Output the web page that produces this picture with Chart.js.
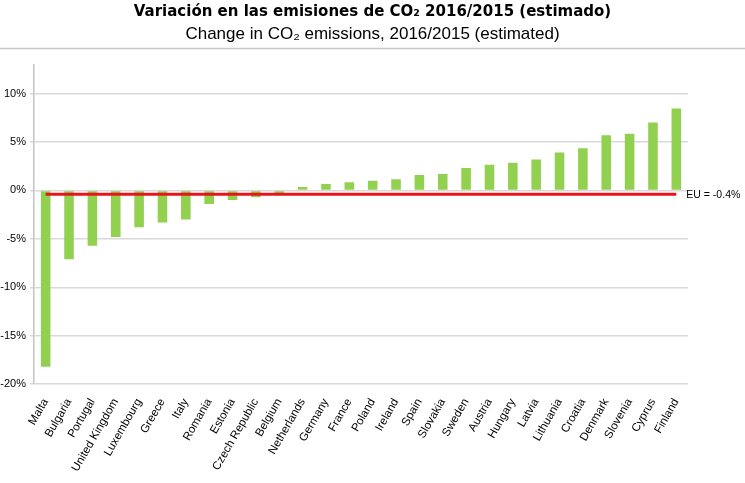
<!DOCTYPE html>
<html>
<head>
<meta charset="utf-8">
<script src="https://cdn.jsdelivr.net/npm/chart.js@4.4.1/dist/chart.umd.min.js"></script>
<style>
  html, body { margin: 0; padding: 0; background: #fff; }
  #wrap { width: 745px; height: 483px; position: relative; }
</style>
</head>
<body>
<div id="wrap"><canvas id="co2-chart"></canvas></div>
<script>
// countries, sorted from largest fall to largest rise
var countries = ['Malta', 'Bulgaria', 'Portugal', 'United Kingdom', 'Luxembourg', 'Greece', 'Italy',
  'Romania', 'Estonia', 'Czech Republic', 'Belgium', 'Netherlands', 'Germany', 'France', 'Poland',
  'Ireland', 'Spain', 'Slovakia', 'Sweden', 'Austria', 'Hungary', 'Latvia', 'Lithuania', 'Croatia',
  'Denmark', 'Slovenia', 'Cyprus', 'Finland'];

// % change 2016/2015
var changes = [-18.2, -7.1, -5.7, -4.8, -3.8, -3.3, -3.0,
  -1.4, -1.0, -0.7, -0.45, 0.35, 0.65, 0.85, 1.0,
  1.15, 1.6, 1.7, 2.3, 2.65, 2.85, 3.2, 3.9, 4.35,
  5.7, 5.85, 7.0, 8.45];

var euValue = -0.4;
var euLabel = 'EU = -0.4%';
var yTicks = [-20, -15, -10, -5, 0, 5, 10];

var titleEs = 'Variación en las emisiones de CO₂ 2016/2015 (estimado)';
var titleEn = 'Change in CO₂ emissions, 2016/2015 (estimated)';

var font = "'Liberation Sans', Arial, sans-serif";

// grey rule under the titles and the EU label at the end of the red line
var extras = {
  id: 'extras',
  beforeDraw: function (chart) {
    var c = chart.ctx;
    c.save();
    c.strokeStyle = '#c8c8c8';
    c.lineWidth = 1.5;
    c.beginPath();
    c.moveTo(0, chart.chartArea.top - 16);
    c.lineTo(chart.width, chart.chartArea.top - 16);
    c.stroke();
    c.restore();
  },
  afterDatasetsDraw: function (chart) {
    var meta = chart.getDatasetMeta(1);
    var last = meta.data[meta.data.length - 1];
    var c = chart.ctx;
    c.save();
    c.fillStyle = '#000';
    c.font = '10.5px ' + font;
    c.textAlign = 'left';
    c.textBaseline = 'middle';
    c.fillText(euLabel, last.x + 10, last.y + 1);
    c.restore();
  }
};

document.addEventListener('DOMContentLoaded', function () {
  var ctx = document.getElementById('co2-chart').getContext('2d');
  var myChart = new Chart(ctx, {
    type: 'bar',
    data: {
      labels: countries,
      datasets: [{
        label: 'Change',
        data: changes,
        backgroundColor: '#92d050',
        borderWidth: 0,
        barPercentage: 0.41,
        categoryPercentage: 1,
        order: 1
      },
      {
        type: 'line',
        label: 'EU',
        data: countries.map(function () { return euValue; }),
        borderColor: '#e8141c',
        borderWidth: 3,
        pointRadius: 0,
        fill: false,
        order: 0
      }]
    },
    options: {
      responsive: true,
      maintainAspectRatio: false,
      animation: false,
      layout: {
        padding: { left: 0, right: 0, top: 0, bottom: 5 }
      },
      scales: {
        x: {
          grid: { display: false },
          border: { display: false },
          ticks: {
            color: '#000',
            font: { family: font, size: 11.5 },
            maxRotation: 60,
            minRotation: 60,
            padding: 4,
            autoSkip: false
          }
        },
        y: {
          min: -20,
          max: 13,
          afterBuildTicks: function (scale) {
            scale.ticks = yTicks.map(function (v) { return { value: v }; });
          },
          afterFit: function (scale) {
            scale.width = 34;
          },
          grid: {
            color: '#d9d9d9',
            lineWidth: 1.5,
            tickLength: 4
          },
          border: { color: '#c4c4c4', width: 1.5 },
          ticks: {
            color: '#000',
            font: { family: font, size: 11 },
            padding: 4,
            callback: function (v) { return v + '%'; }
          }
        },
        // empty right-hand strip that leaves room for the EU label
        yRight: {
          position: 'right',
          grid: { display: false },
          border: { display: false },
          ticks: { display: false },
          afterFit: function (scale) {
            scale.width = 57;
          }
        }
      },
      plugins: {
        legend: { display: false },
        tooltip: { enabled: false },
        title: {
          display: true,
          text: titleEs,
          color: '#000',
          font: { family: "'DejaVu Sans', Verdana, sans-serif", size: 15, weight: 'bold' },
          padding: { top: 3, bottom: 3 }
        },
        subtitle: {
          display: true,
          text: titleEn,
          color: '#000',
          font: { family: font, size: 17 },
          padding: { top: 0, bottom: 20 }
        }
      }
    },
    plugins: [extras]
  });
});
</script>
</body>
</html>
